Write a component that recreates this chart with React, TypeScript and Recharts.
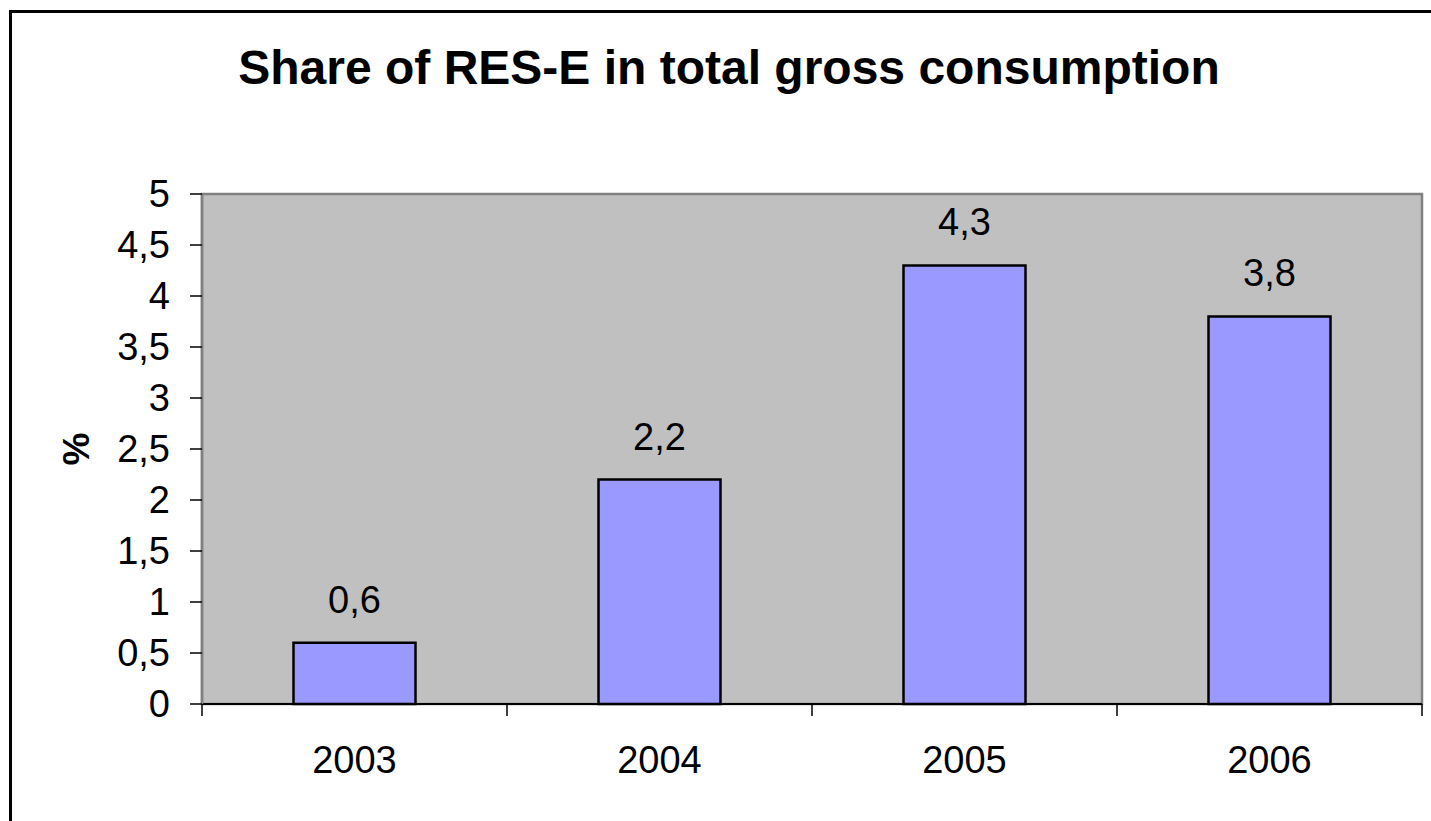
import React from 'react';
import {
  BarChart,
  Bar,
  XAxis,
  YAxis,
  CartesianGrid,
  ReferenceArea,
  LabelList,
} from 'recharts';

const years = ['2003', '2004', '2005', '2006'];
const shares = [0.6, 2.2, 4.3, 3.8];
const yTicks = [0, 0.5, 1, 1.5, 2, 2.5, 3, 3.5, 4, 4.5, 5];

const data = years.map((year, i) => ({ year, share: shares[i] }));

const FONT = '"Liberation Sans", Arial, sans-serif';
const X_TICK_SIZE = 12;
const X_TICK_MARGIN = 30;

const comma = (v: number | string) => String(v).replace('.', ',');

// category labels in the middle, tick marks on the band edges
function YearTick(props: any) {
  const { x, y, payload, index, visibleTicksCount } = props;
  const half = payload.offset ?? 0;
  const lineTop = y - X_TICK_MARGIN - X_TICK_SIZE;
  const lineBottom = y - X_TICK_MARGIN;
  return (
    <g>
      <line x1={x - half} x2={x - half} y1={lineTop} y2={lineBottom} stroke="#000" strokeWidth={1.5} />
      {index === visibleTicksCount - 1 && (
        <line x1={x + half} x2={x + half} y1={lineTop} y2={lineBottom} stroke="#000" strokeWidth={1.5} />
      )}
      <text x={x} y={y} dy="0.71em" textAnchor="middle" fontSize={38} fontFamily={FONT} fill="#000">
        {payload.value}
      </text>
    </g>
  );
}

function PercentLabel(props: any) {
  const { viewBox } = props;
  const cx = viewBox.x + 89;
  const cy = viewBox.y + viewBox.height / 2;
  return (
    <text
      x={cx}
      y={cy}
      textAnchor="middle"
      transform={`rotate(-90, ${cx}, ${cy})`}
      fontSize={37}
      fontWeight="bold"
      fontFamily={FONT}
      fill="#000"
    >
      %
    </text>
  );
}

export default function App() {
  return (
    <div
      style={{
        position: 'absolute',
        left: 0,
        top: 0,
        width: 1431,
        height: 821,
        overflow: 'hidden',
        background: '#fff',
        fontFamily: FONT,
      }}
    >
      <div
        style={{
          position: 'absolute',
          left: 9,
          top: 10,
          width: 1440,
          height: 830,
          borderLeft: '3px solid #000',
          borderTop: '3px solid #000',
        }}
      />
      <div
        style={{
          position: 'absolute',
          left: 0,
          top: 40,
          width: 1458,
          textAlign: 'center',
          fontSize: 48,
          fontWeight: 'bold',
          lineHeight: '56px',
          color: '#000',
        }}
      >
        Share of RES-E in total gross consumption
      </div>
      <div style={{ position: 'absolute', left: 0, top: 0 }}>
        <BarChart
          width={1431}
          height={821}
          data={data}
          margin={{ top: 194, right: 9, bottom: 0, left: 0 }}
          barCategoryGap="30%"
        >
          <CartesianGrid fill="#C0C0C0" horizontal={false} vertical={false} />
          <ReferenceArea
            x1="2003"
            x2="2006"
            y1={0}
            y2={5}
            fill="#C0C0C0"
            fillOpacity={0}
            stroke="#808080"
            strokeWidth={2.5}
          />
          <XAxis
            dataKey="year"
            height={117}
            tickLine={false}
            tickSize={X_TICK_SIZE}
            tickMargin={X_TICK_MARGIN}
            axisLine={{ stroke: '#000', strokeWidth: 2 }}
            tick={<YearTick />}
            interval={0}
          />
          <YAxis
            width={202}
            domain={[0, 5]}
            ticks={yTicks}
            interval={0}
            tickFormatter={comma}
            tickSize={12}
            tickMargin={20}
            tickLine={{ stroke: '#000', strokeWidth: 1.5 }}
            axisLine={{ stroke: '#808080', strokeWidth: 2.5 }}
            tick={{ fill: '#000', fontSize: 38, fontFamily: FONT }}
            label={{ content: <PercentLabel /> }}
          />
          <Bar
            dataKey="share"
            fill="#9999FF"
            stroke="#000"
            strokeWidth={2.5}
            isAnimationActive={false}
          >
            <LabelList
              dataKey="share"
              position="top"
              offset={30}
              formatter={comma}
              fill="#000"
              fontSize={38}
              fontFamily={FONT}
            />
          </Bar>
        </BarChart>
      </div>
    </div>
  );
}
